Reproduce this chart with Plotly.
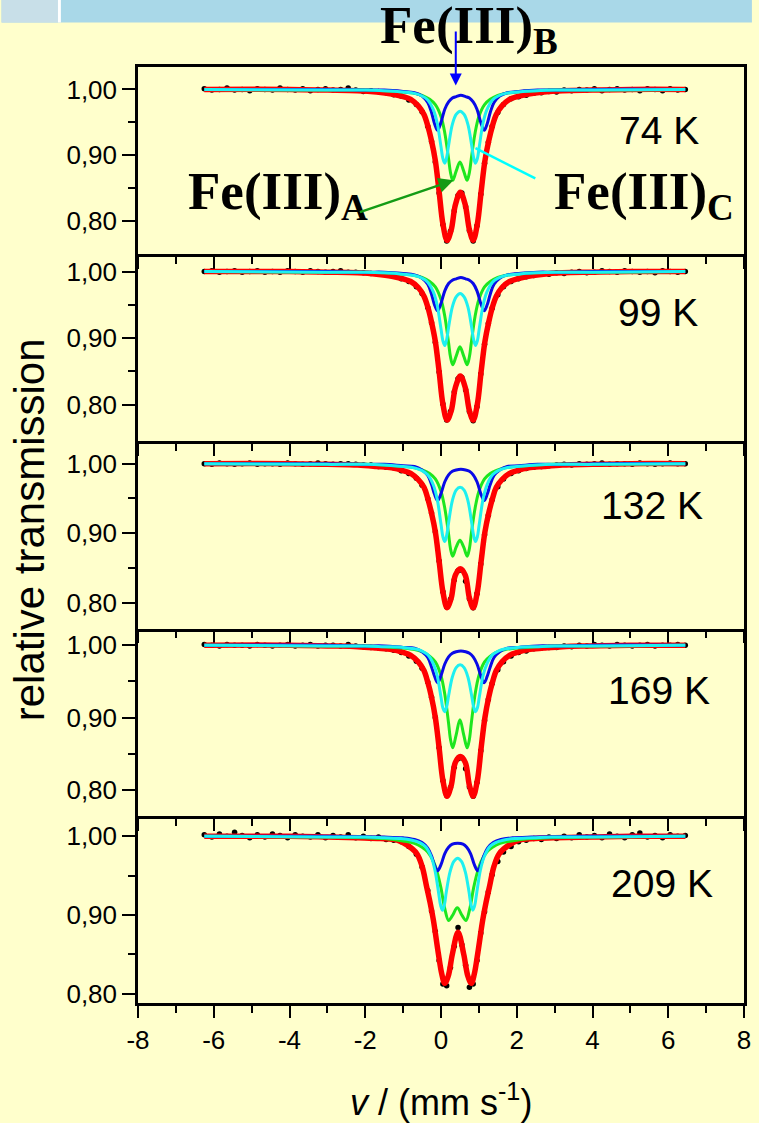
import plotly.graph_objects as go

# ---------------- data ----------------
TEMPS = ["74 K", "99 K", "132 K", "169 K", "209 K"]
X_TICKS = [-8, -6, -4, -2, 0, 2, 4, 6, 8]
X_TICKTEXT = ["-8", "-6", "-4", "-2", "0", "2", "4", "6", "8"]
Y_TICKS = [0.80, 0.90, 1.00]
Y_TICKTEXT = ["0,80", "0,90", "1,00"]
Y_MINOR = [0.85, 0.95]

# measured spectra (black dots), shared velocity channels
DATA_V = [-6.25, -6.05, -5.85, -5.65, -5.45, -5.25, -5.05, -4.85, -4.65, -4.45, -4.25, -4.05, -3.85,
          -3.65, -3.45, -3.25, -3.05, -2.85, -2.65, -2.45, -2.25, -2.05, -1.85, -1.65, -1.45,
          -1.25, -1.05, -0.85, -0.65, -0.5, -0.35, -0.25, -0.15, -0.05, 0.05, 0.15, 0.25, 0.35, 0.45,
          0.55, 0.65, 0.75, 0.85, 0.95, 1.05, 1.15, 1.25, 1.35, 1.5, 1.65, 1.85, 2.05, 2.25,
          2.45, 2.65, 2.85, 3.05, 3.25, 3.45, 3.65, 3.85, 4.05, 4.25, 4.45, 4.65, 4.85, 5.05, 5.25,
          5.45, 5.65, 5.85, 6.05, 6.25, 6.45]
DATA_T1 = [1.001, 0.999, 1.000, 1.002, 0.999, 1.000, 0.998, 1.001, 1.000, 0.999, 1.002, 1.000, 0.999,
           1.001, 0.998, 1.000, 1.001, 0.999, 1.000, 1.002, 0.999, 0.997, 0.998, 0.997, 0.995,
           0.992, 0.990, 0.984, 0.977, 0.966, 0.944, 0.921, 0.890, 0.843, 0.795, 0.770, 0.785, 0.816, 0.839,
           0.843, 0.822, 0.786, 0.770, 0.793, 0.841, 0.888, 0.920, 0.944, 0.965, 0.977, 0.986, 0.989, 0.991,
           0.994, 0.995, 0.997, 0.996, 0.999, 0.998, 1.000, 0.999, 1.001, 0.998, 1.000, 1.001, 0.999, 1.000,
           0.998, 1.001, 1.000, 0.998, 1.001, 0.999, 1.000]
DATA_T2 = [1.000, 1.001, 0.999, 1.000, 1.001, 0.999, 1.000, 1.001, 0.999, 1.000, 0.999, 1.001, 1.000,
           0.999, 1.001, 1.000, 0.999, 1.000, 1.001, 0.999, 0.999, 0.998, 0.997, 0.996, 0.995,
           0.993, 0.989, 0.985, 0.977, 0.967, 0.946, 0.923, 0.894, 0.849, 0.801, 0.777, 0.790, 0.819, 0.839,
           0.841, 0.822, 0.790, 0.776, 0.797, 0.846, 0.891, 0.922, 0.945, 0.965, 0.977, 0.985, 0.989, 0.992,
           0.994, 0.996, 0.996, 0.998, 0.997, 0.999, 1.000, 0.998, 0.999, 1.001, 1.000, 0.999, 1.001, 1.000,
           0.999, 1.000, 0.998, 1.001, 1.000, 0.999, 1.000]
DATA_T3 = [1.000, 0.999, 1.001, 1.000, 0.999, 1.000, 1.001, 0.999, 1.000, 1.000, 0.999, 1.001, 1.000,
           0.999, 1.000, 1.001, 1.000, 0.999, 1.000, 1.000, 0.999, 0.998, 0.998, 0.996, 0.995,
           0.994, 0.990, 0.986, 0.979, 0.969, 0.950, 0.929, 0.902, 0.860, 0.816, 0.794, 0.805, 0.833, 0.846,
           0.847, 0.831, 0.806, 0.793, 0.813, 0.856, 0.898, 0.926, 0.948, 0.967, 0.978, 0.986, 0.990, 0.993,
           0.995, 0.996, 0.997, 0.998, 0.999, 0.998, 1.000, 0.999, 1.000, 1.001, 0.999, 1.000, 1.000, 0.999,
           1.001, 1.000, 0.999, 1.000, 1.001, 1.000, 1.000]
DATA_T4 = [1.001, 1.000, 0.999, 1.001, 1.000, 1.000, 0.999, 1.001, 1.000, 0.999, 1.000, 1.001, 0.999,
           1.000, 1.001, 0.999, 1.000, 1.000, 0.999, 1.001, 0.999, 0.998, 0.997, 0.996, 0.995,
           0.993, 0.990, 0.985, 0.978, 0.968, 0.949, 0.928, 0.900, 0.858, 0.813, 0.792, 0.803, 0.831, 0.843,
           0.844, 0.829, 0.804, 0.791, 0.810, 0.854, 0.896, 0.925, 0.947, 0.966, 0.977, 0.985, 0.990, 0.992,
           0.995, 0.996, 0.997, 0.997, 0.999, 0.998, 1.000, 0.999, 1.001, 1.000, 0.999, 1.001, 1.000, 0.999,
           1.000, 1.001, 0.999, 1.000, 1.000, 1.001, 1.000]
DATA_T5 = [1.002, 0.999, 1.003, 1.000, 1.005, 1.001, 0.998, 1.002, 0.999, 1.003, 1.001, 0.998, 1.002,
           1.000, 0.999, 1.002, 0.998, 1.001, 0.999, 1.002, 0.998, 1.000, 0.997, 0.999, 0.996,
           0.995, 0.993, 0.987, 0.977, 0.961, 0.931, 0.905, 0.879, 0.842, 0.812, 0.810, 0.833, 0.860, 0.884,
           0.862, 0.836, 0.808, 0.812, 0.842, 0.877, 0.904, 0.929, 0.951, 0.968, 0.980, 0.987, 0.993, 0.995,
           0.997, 0.996, 0.999, 0.997, 1.000, 0.998, 1.002, 0.999, 1.001, 0.998, 1.003, 1.000, 0.998, 1.002,
           1.004, 0.999, 1.001, 0.998, 1.002, 1.000, 1.001]

# total fit (red)
RED_V = [-6.25, -4.0, -3.0, -2.2, -1.7, -1.3, -1.0, -0.8, -0.6, -0.45, -0.35, -0.25, -0.15, -0.05, 0.05,
         0.16, 0.27, 0.38, 0.51, 0.64, 0.75, 0.85, 0.96, 1.06, 1.16, 1.26, 1.36, 1.46, 1.61, 1.81, 2.01,
         2.31, 2.71, 3.21, 4.0, 5.0, 6.45]
RED_T1 = [1.000, 1.000, 0.999, 0.998, 0.996, 0.993, 0.989, 0.985, 0.975, 0.962, 0.945, 0.922, 0.892, 0.845,
          0.796, 0.771, 0.787, 0.825, 0.844, 0.825, 0.787, 0.771, 0.796, 0.845, 0.892, 0.922, 0.945, 0.962,
          0.975, 0.985, 0.989, 0.993, 0.996, 0.998, 0.999, 1.000, 1.000]
RED_T2 = [1.000, 1.000, 0.999, 0.998, 0.996, 0.993, 0.989, 0.985, 0.976, 0.963, 0.947, 0.924, 0.895, 0.850,
          0.801, 0.777, 0.791, 0.826, 0.843, 0.826, 0.791, 0.777, 0.801, 0.850, 0.895, 0.924, 0.947, 0.963,
          0.976, 0.985, 0.989, 0.993, 0.996, 0.998, 0.999, 1.000, 1.000]
RED_T3 = [1.000, 1.000, 0.999, 0.998, 0.996, 0.994, 0.990, 0.986, 0.977, 0.966, 0.950, 0.929, 0.902, 0.860,
          0.816, 0.793, 0.807, 0.840, 0.849, 0.840, 0.807, 0.793, 0.816, 0.860, 0.902, 0.929, 0.950, 0.966,
          0.977, 0.986, 0.990, 0.994, 0.996, 0.998, 0.999, 1.000, 1.000]
RED_T4 = [1.000, 1.000, 0.999, 0.998, 0.996, 0.994, 0.990, 0.986, 0.977, 0.965, 0.949, 0.928, 0.900, 0.858,
          0.813, 0.791, 0.806, 0.838, 0.846, 0.838, 0.806, 0.791, 0.813, 0.858, 0.900, 0.928, 0.949, 0.965,
          0.977, 0.986, 0.990, 0.994, 0.996, 0.998, 0.999, 1.000, 1.000]
RED_V5 = [-6.25, -4.0, -3.0, -2.2, -1.6, -1.16, -0.9, -0.64, -0.5, -0.38, -0.29, -0.2, -0.07, 0.02, 0.1,
          0.19, 0.3, 0.45, 0.6, 0.71, 0.8, 0.88, 0.97, 1.10, 1.19, 1.28, 1.40, 1.54, 1.80, 2.06, 2.50,
          3.0, 4.0, 5.0, 6.45]
RED_T5 = [1.000, 1.000, 0.999, 0.998, 0.997, 0.995, 0.989, 0.978, 0.962, 0.936, 0.916, 0.893, 0.851, 0.825,
          0.813, 0.822, 0.850, 0.878, 0.850, 0.822, 0.813, 0.825, 0.851, 0.893, 0.916, 0.936, 0.962, 0.978,
          0.989, 0.995, 0.997, 0.998, 0.999, 1.000, 1.000]

# Fe(III)B doublet (blue)
B_V = [-6.25, -3.0, -2.0, -1.5, -1.0, -0.7, -0.5, -0.35, -0.25, -0.17, -0.09, 0.0, 0.1, 0.2, 0.3, 0.4,
       0.525, 0.65, 0.75, 0.85, 0.95, 1.05, 1.14, 1.22, 1.3, 1.4, 1.55, 1.75, 2.05, 2.55, 3.05, 4.05, 6.45]
B_T1 = [1.000, 1.000, 0.999, 0.999, 0.997, 0.995, 0.990, 0.980, 0.965, 0.948, 0.938, 0.950, 0.970, 0.981,
        0.987, 0.989, 0.991, 0.989, 0.987, 0.981, 0.970, 0.950, 0.938, 0.948, 0.965, 0.980, 0.990, 0.995,
        0.997, 0.999, 0.999, 1.000, 1.000]
B_T2 = [1.000, 1.000, 0.999, 0.999, 0.997, 0.995, 0.990, 0.981, 0.966, 0.950, 0.941, 0.952, 0.971, 0.982,
        0.987, 0.989, 0.991, 0.989, 0.987, 0.982, 0.971, 0.952, 0.941, 0.950, 0.966, 0.981, 0.990, 0.995,
        0.997, 0.999, 0.999, 1.000, 1.000]
B_T3 = [1.000, 1.000, 0.999, 0.999, 0.997, 0.996, 0.991, 0.983, 0.970, 0.956, 0.947, 0.957, 0.974, 0.984,
        0.989, 0.991, 0.992, 0.991, 0.989, 0.984, 0.974, 0.957, 0.947, 0.956, 0.970, 0.983, 0.991, 0.996,
        0.997, 0.999, 0.999, 1.000, 1.000]
B_T4 = [1.000, 1.000, 0.999, 0.999, 0.997, 0.996, 0.991, 0.983, 0.970, 0.957, 0.948, 0.958, 0.974, 0.984,
        0.989, 0.991, 0.992, 0.991, 0.989, 0.984, 0.974, 0.958, 0.948, 0.957, 0.970, 0.983, 0.991, 0.996,
        0.997, 0.999, 0.999, 1.000, 1.000]
B_V5 = [-6.25, -3.0, -1.5, -1.0, -0.7, -0.5, -0.35, -0.25, -0.17, -0.09, 0.0, 0.1, 0.2, 0.3, 0.44, 0.58,
        0.68, 0.78, 0.88, 0.97, 1.05, 1.13, 1.23, 1.38, 1.58, 1.88, 2.38, 3.88, 6.45]
B_T5 = [1.000, 1.000, 0.999, 0.998, 0.996, 0.992, 0.985, 0.975, 0.963, 0.956, 0.964, 0.978, 0.986, 0.990,
        0.991, 0.990, 0.986, 0.978, 0.964, 0.956, 0.963, 0.975, 0.985, 0.992, 0.996, 0.998, 0.999, 1.000, 1.000]

# Fe(III)A doublet (green)
A_V = [-6.25, -3.0, -2.0, -1.5, -1.0, -0.7, -0.5, -0.3, -0.15, 0.0, 0.1, 0.2, 0.25, 0.31, 0.4, 0.5, 0.6,
       0.69, 0.75, 0.8, 0.9, 1.0, 1.15, 1.3, 1.5, 1.7, 2.0, 2.5, 3.0, 4.0, 6.45]
A_T1 = [1.000, 0.999, 0.999, 0.998, 0.996, 0.994, 0.991, 0.985, 0.977, 0.959, 0.934, 0.895, 0.874, 0.862,
        0.876, 0.890, 0.876, 0.862, 0.874, 0.895, 0.934, 0.959, 0.977, 0.985, 0.991, 0.994, 0.996, 0.998,
        0.999, 0.999, 1.000]
A_T2 = [1.000, 0.999, 0.999, 0.998, 0.996, 0.994, 0.991, 0.985, 0.977, 0.958, 0.933, 0.893, 0.872, 0.860,
        0.873, 0.887, 0.873, 0.860, 0.872, 0.893, 0.933, 0.958, 0.977, 0.985, 0.991, 0.994, 0.996, 0.998,
        0.999, 0.999, 1.000]
A_T3 = [1.000, 0.999, 0.999, 0.998, 0.996, 0.994, 0.991, 0.986, 0.978, 0.960, 0.936, 0.899, 0.878, 0.867,
        0.880, 0.890, 0.880, 0.867, 0.878, 0.899, 0.936, 0.960, 0.978, 0.986, 0.991, 0.994, 0.996, 0.998,
        0.999, 0.999, 1.000]
A_T4 = [1.000, 0.999, 0.999, 0.998, 0.996, 0.994, 0.991, 0.985, 0.977, 0.958, 0.932, 0.892, 0.870, 0.858,
        0.876, 0.897, 0.876, 0.858, 0.870, 0.892, 0.932, 0.958, 0.977, 0.985, 0.991, 0.994, 0.996, 0.998,
        0.999, 0.999, 1.000]
A_V5 = [-6.25, -3.0, -2.0, -1.5, -1.0, -0.7, -0.5, -0.35, -0.2, -0.1, 0.0, 0.1, 0.2, 0.3, 0.43, 0.56, 0.66,
        0.76, 0.86, 0.96, 1.06, 1.21, 1.36, 1.56, 1.86, 2.36, 2.86, 3.86, 6.45]
A_T5 = [1.000, 0.999, 0.998, 0.997, 0.994, 0.991, 0.986, 0.980, 0.968, 0.954, 0.934, 0.908, 0.893, 0.899,
        0.909, 0.899, 0.893, 0.908, 0.934, 0.954, 0.968, 0.980, 0.986, 0.991, 0.994, 0.997, 0.998, 0.999, 1.000]

# Fe(III)C doublet (cyan)
C_V = [-6.25, -3.0, -2.0, -1.5, -1.0, -0.7, -0.5, -0.35, -0.2, -0.1, 0.0, 0.05, 0.1, 0.15, 0.2, 0.3, 0.4,
       0.505, 0.61, 0.71, 0.81, 0.86, 0.91, 0.96, 1.01, 1.11, 1.21, 1.36, 1.51, 1.71, 2.01, 2.51, 3.01,
       4.01, 6.45]
C_T1 = [1.000, 0.999, 0.999, 0.998, 0.996, 0.994, 0.990, 0.984, 0.969, 0.949, 0.913, 0.895, 0.888, 0.897,
        0.915, 0.947, 0.962, 0.967, 0.962, 0.947, 0.915, 0.897, 0.888, 0.895, 0.913, 0.949, 0.969, 0.984,
        0.990, 0.994, 0.996, 0.998, 0.999, 0.999, 1.000]
C_T2 = [1.000, 0.999, 0.999, 0.998, 0.996, 0.994, 0.990, 0.984, 0.969, 0.949, 0.914, 0.896, 0.889, 0.898,
        0.916, 0.947, 0.962, 0.967, 0.962, 0.947, 0.916, 0.898, 0.889, 0.896, 0.914, 0.949, 0.969, 0.984,
        0.990, 0.994, 0.996, 0.998, 0.999, 0.999, 1.000]
C_T3 = [1.000, 0.999, 0.999, 0.998, 0.996, 0.994, 0.990, 0.984, 0.969, 0.949, 0.913, 0.895, 0.888, 0.897,
        0.915, 0.947, 0.962, 0.966, 0.962, 0.947, 0.915, 0.897, 0.888, 0.895, 0.913, 0.949, 0.969, 0.984,
        0.990, 0.994, 0.996, 0.998, 0.999, 0.999, 1.000]
C_T4 = [1.000, 0.999, 0.999, 0.998, 0.997, 0.995, 0.992, 0.987, 0.974, 0.958, 0.928, 0.913, 0.908, 0.915,
        0.930, 0.956, 0.969, 0.973, 0.969, 0.956, 0.930, 0.915, 0.908, 0.913, 0.928, 0.958, 0.974, 0.987,
        0.992, 0.995, 0.997, 0.998, 0.999, 0.999, 1.000]
C_V5 = [-6.25, -3.0, -2.0, -1.5, -1.06, -0.76, -0.56, -0.41, -0.26, -0.16, -0.06, -0.01, 0.04, 0.09, 0.14,
        0.24, 0.34, 0.44, 0.54, 0.64, 0.74, 0.79, 0.84, 0.89, 0.94, 1.04, 1.14, 1.29, 1.44, 1.64, 1.94,
        2.44, 2.94, 3.94, 6.45]
C_T5 = [1.000, 0.999, 0.999, 0.998, 0.997, 0.995, 0.992, 0.987, 0.974, 0.957, 0.927, 0.912, 0.906, 0.913,
        0.929, 0.955, 0.968, 0.972, 0.968, 0.955, 0.929, 0.913, 0.906, 0.912, 0.927, 0.957, 0.974, 0.987,
        0.992, 0.995, 0.997, 0.998, 0.999, 0.999, 1.000]

PANELS = [
    dict(data=DATA_T1, red=(RED_V, RED_T1), a=(A_V, A_T1), b=(B_V, B_T1), c=(C_V, C_T1)),
    dict(data=DATA_T2, red=(RED_V, RED_T2), a=(A_V, A_T2), b=(B_V, B_T2), c=(C_V, C_T2)),
    dict(data=DATA_T3, red=(RED_V, RED_T3), a=(A_V, A_T3), b=(B_V, B_T3), c=(C_V, C_T3)),
    dict(data=DATA_T4, red=(RED_V, RED_T4), a=(A_V, A_T4), b=(B_V, B_T4), c=(C_V, C_T4)),
    dict(data=DATA_T5, red=(RED_V5, RED_T5), a=(A_V5, A_T5), b=(B_V5, B_T5), c=(C_V5, C_T5)),
]

# ---------------- layout constants ----------------
W, H = 759, 1123
ML, MR, MT, MB = 138, 8, 67, 120
Y_RANGES = [[0.750, 1.034], [0.745, 1.026], [0.763, 1.032], [0.764, 1.023], [0.788, 1.026]]
DOMAINS = [[0.8, 1.0], [0.6, 0.8], [0.4, 0.6], [0.2, 0.4], [0.0, 0.2]]
BG = "#FFFFCC"
SANS = "Liberation Sans, Arial, sans-serif"
SERIF = "Liberation Serif, Times New Roman, serif"
PW = W - ML - MR
PH = H - MT - MB


def px(x):
    return (x - ML) / PW


def py(y):
    return (H - MB - y) / PH


fig = go.Figure()
colors = dict(red="#FF0000", a="#1EE61E", b="#0A0AE6", c="#1EF0F0")
widths = dict(red=5.5, a=3, b=3, c=3)

for i, p in enumerate(PANELS):
    n = "" if i == 0 else str(i + 1)
    xa, ya = "x" + n, "y" + n
    fig.add_trace(go.Scatter(x=DATA_V, y=p["data"], mode="markers",
                             marker=dict(color="black", size=5.5), xaxis=xa, yaxis=ya,
                             showlegend=False, hoverinfo="skip"))
    for key in ["red", "a", "b", "c"]:
        vx, vy = p[key]
        fig.add_trace(go.Scatter(x=vx, y=vy, mode="lines",
                                 line=dict(color=colors[key], width=widths[key], shape="spline", smoothing=1.0),
                                 xaxis=xa, yaxis=ya, showlegend=False, hoverinfo="skip"))

layout = dict(width=W, height=H, margin=dict(l=ML, r=MR, t=MT, b=MB, pad=0),
              paper_bgcolor=BG, plot_bgcolor=BG, showlegend=False,
              font=dict(family=SANS, color="black", size=26))

for i in range(5):
    n = "" if i == 0 else str(i + 1)
    layout["xaxis" + n] = dict(domain=[0, 1], anchor="y" + n, range=[-8, 8],
                               tickmode="array", tickvals=X_TICKS, ticktext=X_TICKTEXT,
                               showticklabels=(i == 4), ticks="outside", ticklen=12, tickwidth=2,
                               tickcolor="black",
                               minor=dict(tickmode="linear", tick0=0, dtick=1, ticks="outside",
                                          ticklen=7, tickwidth=2, tickcolor="black"),
                               showline=True, linewidth=2.5, linecolor="black", mirror=(i == 0),
                               showgrid=False, zeroline=False,
                               tickfont=dict(family=SANS, size=26, color="black"))
    layout["yaxis" + n] = dict(domain=DOMAINS[i], anchor="x" + n, range=Y_RANGES[i],
                               tickmode="array", tickvals=Y_TICKS, ticktext=Y_TICKTEXT,
                               ticks="outside", ticklen=13, tickwidth=2, tickcolor="black",
                               minor=dict(tickmode="array", tickvals=Y_MINOR, ticks="outside",
                                          ticklen=7, tickwidth=2, tickcolor="black"),
                               showline=True, linewidth=2.5, linecolor="black", mirror=True,
                               showgrid=False, zeroline=False,
                               tickfont=dict(family=SANS, size=26, color="black"))

fig.update_layout(**layout)

# header band, panel separator and cyan pointer
shapes = [
    dict(type="rect", xref="paper", yref="paper", x0=px(0), x1=px(W), y0=py(22.5), y1=py(0),
         fillcolor="#A9D8E8", line=dict(width=0), layer="below"),
    dict(type="rect", xref="paper", yref="paper", x0=px(0), x1=px(57), y0=py(22.5), y1=py(0),
         fillcolor="#C8DFE8", line=dict(width=0), layer="below"),
    dict(type="rect", xref="paper", yref="paper", x0=px(57), x1=px(60), y0=py(22.5), y1=py(0),
         fillcolor="#FFFFFF", line=dict(width=0), layer="below"),
    dict(type="line", xref="x", yref="y", x0=2.49, y0=0.865, x1=0.91, y1=0.911,
         line=dict(color="#00FFFF", width=2.5)),
]
fig.update_layout(shapes=shapes)

ann = []
# temperatures
temp_pos = [(5.76, 0.938), (5.74, 0.938), (5.57, 0.940), (5.76, 0.938), (5.84, 0.940)]
for i, t in enumerate(TEMPS):
    n = "" if i == 0 else str(i + 1)
    ann.append(dict(x=temp_pos[i][0], y=temp_pos[i][1], xref="x" + n, yref="y" + n, text=t,
                    showarrow=False, font=dict(family=SANS, size=39, color="black"),
                    xanchor="center", yanchor="middle"))
# component labels
lab_font = dict(family=SERIF, size=53, color="black")
ann.append(dict(x=px(381), y=py(64), xref="paper", yref="paper", text="<b>Fe(III)<sub>B</sub></b>",
                showarrow=False, font=lab_font, xanchor="left", yanchor="bottom"))
ann.append(dict(x=px(187), y=py(230), xref="paper", yref="paper", text="<b>Fe(III)<sub>A</sub></b>",
                showarrow=False, font=lab_font, xanchor="left", yanchor="bottom"))
ann.append(dict(x=px(557), y=py(230), xref="paper", yref="paper", text="<b>Fe(III)<sub>C</sub></b>",
                showarrow=False, font=lab_font, xanchor="left", yanchor="bottom"))
# arrows
ann.append(dict(x=0.33, y=0.862, xref="x", yref="y", ax=-2.18, ay=0.813, axref="x", ayref="y",
                text="", showarrow=True, arrowhead=2, arrowsize=1.2, arrowwidth=2.5, arrowcolor="#159B15"))
ann.append(dict(x=0.39, y=1.006, xref="x", yref="y", ax=0.39, ay=1.090, axref="x", ayref="y",
                text="", showarrow=True, arrowhead=2, arrowsize=1.2, arrowwidth=2, arrowcolor="#0000FF"))
# axis titles
ann.append(dict(x=px(28), y=py(530), xref="paper", yref="paper", text="relative transmission",
                textangle=-90, showarrow=False, font=dict(family=SANS, size=42, color="black"),
                xanchor="center", yanchor="middle"))
ann.append(dict(x=px(445), y=py(1100), xref="paper", yref="paper",
                text="<i>v</i> / (mm s<sup>-1</sup>)", showarrow=False,
                font=dict(family=SANS, size=36, color="black"), xanchor="center", yanchor="middle"))
fig.update_layout(annotations=ann)

fig.write_html("out.html")
